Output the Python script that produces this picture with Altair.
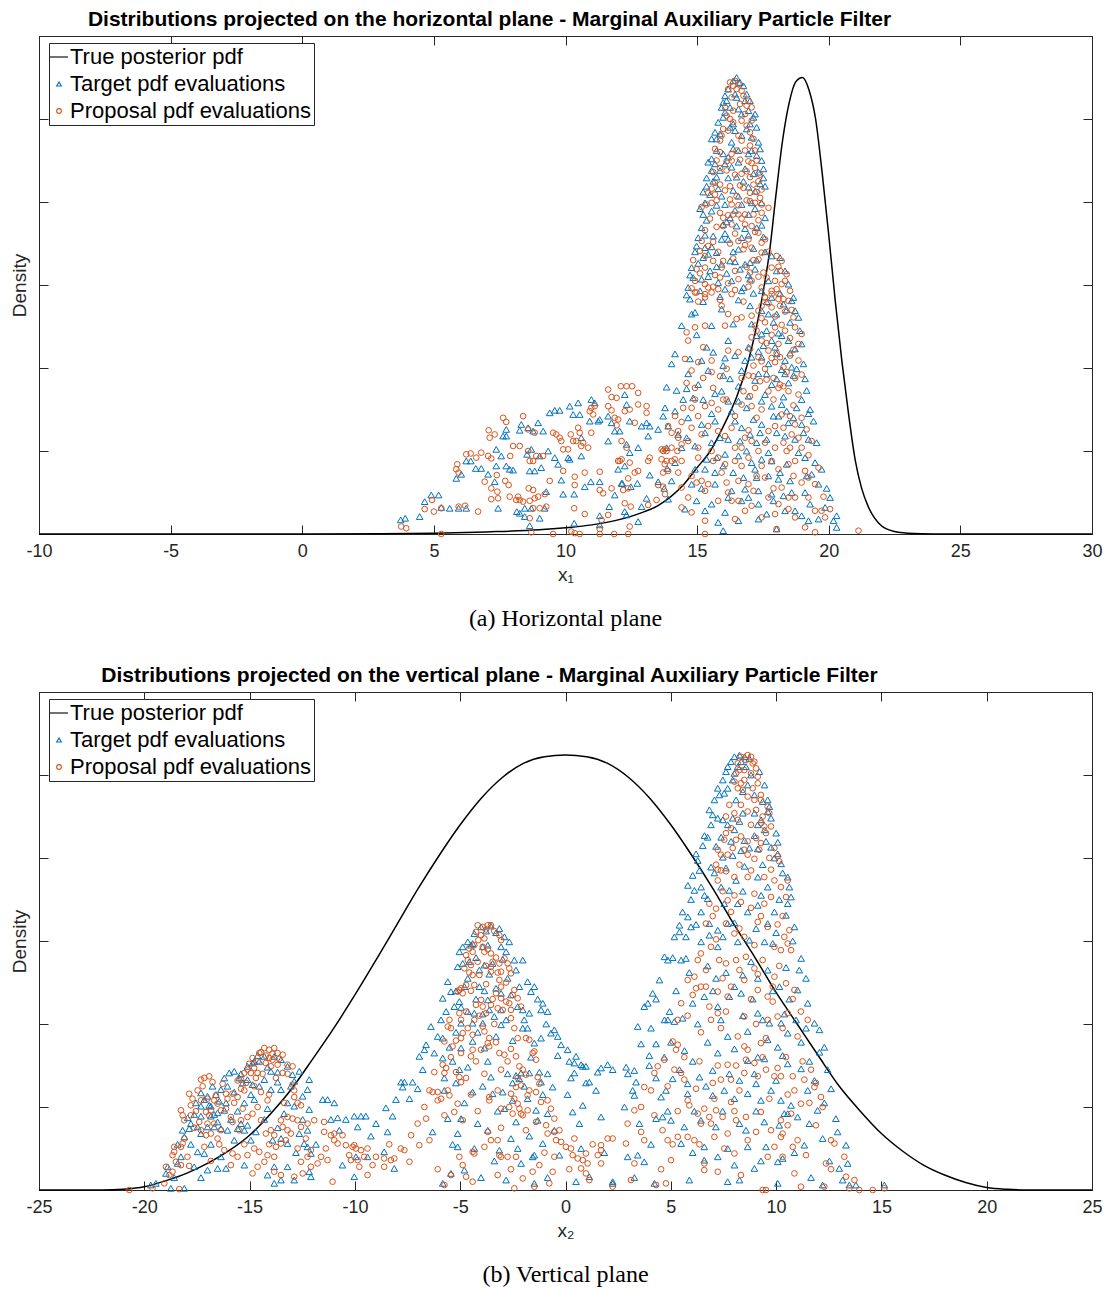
import altair as alt
import pandas as pd

SERIES = ["True posterior pdf", "Target pdf evaluations", "Proposal pdf evaluations"]
COLORS = ["#000000", "#0072BD", "#D95319"]
# the curve's legend glyph is a short horizontal stroke
SHAPES = ["M-3.84,0L3.84,0", "triangle-up", "circle"]

x1_ticks = [-10, -5, 0, 5, 10, 15, 20, 25, 30]
x2_ticks = [-25, -20, -15, -10, -5, 0, 5, 10, 15, 20, 25]
y_ticks = [0, 1, 2, 3, 4, 5, 6]

# ---------------- Panel (a): horizontal plane ----------------
p1_curve_x = [-10, 0, 3, 5, 7, 9, 10, 11, 12, 13, 13.5, 14, 14.5, 15, 15.5, 16, 16.5, 17, 17.5, 17.75,
              18, 18.25, 18.5, 18.75, 19, 19.25, 19.5, 19.75, 20, 20.25, 20.5, 20.75, 21, 21.25, 21.5,
              22, 22.5, 23, 24, 30]
p1_curve_y = [0, 0, 0.003, 0.01, 0.025, 0.05, 0.075, 0.11, 0.17, 0.27, 0.34, 0.45, 0.6, 0.8, 1.0, 1.3,
              1.65, 2.15, 2.9, 3.4, 4.1, 4.75, 5.2, 5.45, 5.5, 5.35, 5.0, 4.35, 3.6, 2.8, 2.08, 1.45,
              0.9, 0.55, 0.33, 0.1, 0.03, 0.01, 0, 0]

p1_target = [
    (3.74, 0.17), (3.91, 0.19), (4.46, 0.21), (4.65, 0.39), (4.90, 0.47), (5.18, 0.47), (5.28, 0.32), (5.60, 0.31),
    (5.94, 0.31), (6.23, 0.31), (5.85, 0.67), (6.04, 0.72), (6.23, 0.88), (6.40, 0.88), (6.59, 0.79), (6.80, 0.79),
    (7.06, 0.72), (7.37, 0.82), (7.56, 0.94), (7.75, 0.82), (7.88, 0.78), (8.01, 0.77), (7.44, 0.31), (7.31, 0.63),
    (7.63, 1.18), (7.75, 1.26), (8.32, 1.32), (8.58, 1.28), (8.77, 1.24), (8.96, 1.34), (9.15, 1.24), (9.40, 1.46),
    (9.59, 1.49), (9.78, 1.49), (10.16, 1.54), (10.29, 1.44), (10.48, 1.58), (10.54, 1.44), (10.98, 1.62), (11.11, 1.58),
    (11.30, 1.38), (11.62, 1.42), (12.25, 1.68), (12.32, 1.56), (13.71, 1.42), (13.52, 1.26), (13.14, 1.18), (13.20, 1.30),
    (12.89, 1.30), (12.32, 1.08), (12.44, 0.98), (12.76, 1.04), (12.25, 0.82), (12.00, 0.78), (11.75, 1.34), (11.62, 1.12),
    (10.10, 0.92), (10.16, 0.90), (9.59, 0.92), (9.72, 0.84), (9.34, 1.00), (9.02, 0.94), (8.64, 0.76), (8.83, 0.76),
    (9.08, 0.80), (8.54, 0.96), (8.26, 1.25), (8.15, 0.27), (8.45, 0.31), (8.64, 0.10), (9.02, 0.19), (9.21, 0.31),
    (9.27, 0.51), (9.84, 0.65), (9.91, 0.48), (10.33, 0.48), (10.33, 0.13), (10.73, 0.57), (10.96, 0.63), (11.30, 0.63),
    (11.30, 0.22), (11.30, 0.11), (11.66, 0.33), (11.87, 0.47), (12.13, 0.61), (12.16, 0.61), (12.48, 0.57), (12.73, 0.61),
    (13.08, 0.43), (13.20, 0.71), (13.52, 0.63), (13.75, 0.55), (13.86, 0.79), (12.89, 0.33), (12.32, 0.23), (12.25, 0.27),
    (12.76, 0.15), (8.26, 0.25), (8.45, 0.21), (8.70, 0.31), (7.37, 1.02), (7.75, 1.18), (8.70, 1.02), (10.60, 1.16),
    (10.60, 0.94), (10.92, 1.36), (11.24, 1.36), (11.87, 1.24), (12.06, 1.24), (12.44, 1.36), (13.08, 1.34),
    (16.50, 5.50), (16.37, 5.46), (16.63, 5.44), (16.76, 5.40), (16.18, 5.36), (16.06, 5.28), (16.50, 5.26), (15.99, 5.20),
    (16.82, 5.22), (17.01, 5.22), (15.93, 5.14), (16.25, 5.14), (16.95, 5.10), (15.99, 5.02), (16.69, 5.06), (17.14, 5.02),
    (16.37, 4.94), (17.01, 4.94), (17.26, 4.90), (15.68, 4.84), (15.87, 4.82), (16.44, 4.86), (16.69, 4.80), (17.07, 4.78),
    (15.55, 4.76), (15.74, 4.76), (16.31, 4.72), (17.33, 4.72), (17.39, 4.64), (17.07, 4.62), (16.37, 4.64), (16.57, 4.62),
    (15.99, 4.58), (15.55, 4.52), (16.18, 4.54), (15.68, 4.46), (16.57, 4.48), (17.45, 4.50), (17.52, 4.40), (15.55, 4.38),
    (15.87, 4.38), (16.31, 4.42), (15.36, 4.29), (15.61, 4.25), (16.18, 4.29), (16.76, 4.25), (17.52, 4.29), (17.58, 4.19),
    (15.36, 4.19), (15.49, 4.09), (15.93, 4.07), (16.57, 4.07), (17.20, 4.13), (17.07, 3.99), (15.30, 3.99), (16.06, 3.97),
    (16.69, 3.97), (17.45, 3.99), (15.23, 3.85), (15.55, 3.89), (16.25, 3.81), (16.95, 3.85), (17.58, 3.81), (15.17, 3.69),
    (15.99, 3.73), (16.50, 3.71), (17.26, 3.69), (15.04, 3.57), (15.61, 3.59), (15.93, 3.55), (16.18, 3.55), (16.69, 3.57),
    (14.98, 3.47), (15.30, 3.45), (16.57, 3.43), (15.42, 3.37), (15.74, 3.39), (16.25, 3.29), (17.01, 3.27), (16.82, 3.25),
    (15.23, 3.33), (14.79, 3.21), (15.49, 3.17), (15.93, 3.25), (16.63, 3.19), (17.20, 3.19), (14.85, 3.09), (15.17, 3.07),
    (15.80, 3.03), (16.31, 3.05), (16.76, 2.97), (17.01, 3.07), (14.66, 2.97), (15.11, 2.93), (16.06, 2.95), (16.69, 2.93),
    (14.73, 2.83),
    (17.83, 3.35), (18.15, 3.33), (18.02, 3.17), (18.34, 3.17), (17.71, 3.05), (18.47, 3.01), (17.45, 2.93), (18.66, 2.85),
    (17.83, 2.85),
    (14.92, 2.67), (14.79, 2.65), (15.93, 2.71), (16.37, 2.53), (17.01, 2.75), (14.41, 2.51), (15.55, 2.51), (16.18, 2.33),
    (17.07, 2.53), (17.45, 2.69), (17.45, 2.41), (17.71, 2.65), (18.02, 2.65), (18.28, 2.77), (18.59, 2.81), (18.72, 2.69),
    (18.85, 2.61), (17.26, 2.39), (17.52, 2.27), (17.83, 2.33), (18.21, 2.39), (18.47, 2.33), (18.72, 2.23), (18.97, 2.29),
    (14.16, 2.17), (14.03, 2.05), (14.73, 2.11), (15.17, 2.09), (15.61, 2.19), (15.99, 2.03), (16.82, 2.09), (17.07, 2.13),
    (17.45, 2.13), (18.02, 2.17), (18.34, 2.09), (18.59, 2.01), (18.78, 1.99), (14.66, 1.93), (15.42, 1.97), (15.99, 1.91),
    (16.25, 1.87), (16.69, 1.97), (17.33, 1.93), (17.64, 1.93), (18.02, 1.87), (18.34, 1.93), (18.66, 1.91), (19.10, 1.87),
    (13.84, 1.77), (14.22, 1.73), (14.60, 1.75), (14.85, 1.64), (15.23, 1.62), (15.68, 1.69), (16.18, 1.60), (16.57, 1.60),
    (16.95, 1.66), (17.45, 1.60), (17.83, 1.54), (18.21, 1.56), (18.40, 1.48), (18.78, 1.52), (19.16, 1.73), (19.29, 1.50),
    (13.78, 1.52), (14.16, 1.48), (14.66, 1.40), (15.17, 1.32), (15.68, 1.36), (16.44, 1.36), (16.69, 1.28), (17.14, 1.38),
    (17.45, 1.32), (18.09, 1.42), (18.47, 1.34), (18.97, 1.32), (19.42, 1.36), (13.90, 1.30), (14.28, 1.20), (14.60, 1.16),
    (15.30, 1.22), (15.87, 1.16), (16.18, 1.14), (17.01, 1.20), (17.26, 1.10), (17.64, 1.14), (18.02, 1.22), (18.72, 1.14),
    (19.23, 1.14), (13.84, 1.04), (14.41, 1.04), (14.92, 1.06), (15.36, 0.90), (15.74, 0.92), (16.06, 0.96), (16.57, 0.94),
    (17.07, 0.86), (17.45, 0.90), (17.83, 0.88), (18.40, 0.84), (19.10, 0.92), (19.48, 0.86), (14.16, 0.86), (14.92, 0.78),
    (15.30, 0.78), (15.68, 0.74), (16.37, 0.74), (16.76, 0.68), (17.26, 0.68), (17.71, 0.70), (18.09, 0.66), (18.53, 0.64),
    (19.16, 0.70), (19.73, 0.78), (14.03, 0.64), (14.79, 0.60), (15.68, 0.60), (16.31, 0.52), (16.82, 0.54), (17.33, 0.52),
    (17.83, 0.48), (18.59, 0.50), (19.61, 0.60), (20.05, 0.44), (13.90, 0.42), (14.98, 0.40), (15.55, 0.36), (16.18, 0.44),
    (16.69, 0.40), (17.33, 0.36), (17.90, 0.40), (18.34, 0.28), (18.72, 0.28), (19.29, 0.36), (19.86, 0.32), (15.30, 0.28),
    (15.80, 0.14), (16.57, 0.16), (17.33, 0.18), (18.02, 0.06), (19.23, 0.16), (20.18, 0.16), (15.99, 0.04), (20.30, 0.08),
]

p1_target_dense = [
    (16.44, 5.30), (16.12, 5.22), (16.88, 5.30), (16.57, 5.12), (16.06, 5.08), (17.20, 5.06), (15.80, 4.96), (16.25, 4.90),
    (16.88, 4.88), (15.74, 4.62), (16.95, 4.58), (17.26, 4.56), (15.42, 4.48), (16.06, 4.46), (16.82, 4.40), (17.14, 4.34),
    (15.74, 4.30), (16.50, 4.30), (17.33, 4.36), (15.23, 4.12), (15.80, 4.16), (16.37, 4.14), (16.95, 4.18), (17.39, 4.22),
    (15.11, 3.92), (15.74, 3.96), (16.44, 3.90), (17.20, 3.92), (15.36, 3.78), (16.12, 3.76), (16.82, 3.68), (17.45, 3.72),
    (15.30, 3.60), (16.06, 3.62), (16.95, 3.60), (17.52, 3.58), (14.92, 3.40), (15.55, 3.46), (16.37, 3.40), (17.14, 3.44),
    (17.58, 3.40), (15.04, 3.26), (15.74, 3.22), (16.44, 3.28), (17.26, 3.30), (14.73, 3.12), (15.42, 3.10), (16.12, 3.14),
    (16.95, 3.12), (14.60, 2.88), (15.23, 2.80), (15.87, 2.86), (16.57, 2.82), (17.14, 2.90),
    (17.64, 2.80), (18.15, 2.90), (18.40, 2.70), (17.90, 2.55), (18.53, 2.55), (17.64, 2.45), (18.09, 2.42), (18.90, 2.45),
    (17.33, 2.20), (17.96, 2.25), (18.53, 2.18), (16.95, 2.25), (16.44, 2.15), (17.71, 2.05), (18.21, 1.98), (19.04, 2.05),
    (16.06, 2.12), (15.36, 2.25), (14.98, 2.40), (17.20, 1.85), (17.83, 1.80), (18.47, 1.82), (16.57, 1.78), (15.93, 1.72),
    (15.04, 1.80), (14.47, 1.62), (17.58, 1.68), (18.28, 1.65), (18.97, 1.62), (16.88, 1.52), (16.31, 1.48), (15.55, 1.45),
    (17.90, 1.42), (18.66, 1.40), (19.23, 1.45), (17.39, 1.22), (16.63, 1.12), (15.55, 1.10), (18.34, 1.18), (19.04, 1.22),
    (19.54, 1.10), (16.88, 1.00), (17.71, 0.98), (18.85, 0.98), (15.99, 0.82), (17.20, 0.78), (18.15, 0.74), (19.35, 0.72),
    (19.92, 0.55), (16.95, 0.44), (18.28, 0.46), (19.10, 0.50), (15.17, 0.55), (14.54, 0.30), (16.06, 0.26), (17.64, 0.24),
    (18.97, 0.22), (19.61, 0.18), (20.30, 0.22),
]

p1_proposal = [
    (3.76, 0.09), (3.95, 0.07), (4.65, 0.30), (4.93, 0.41), (5.00, 0.27), (5.28, 0.31), (5.94, 0.33), (6.19, 0.34),
    (6.68, 0.27), (5.28, 0.00), (5.85, 0.78), (5.94, 0.74), (5.89, 0.84), (6.23, 0.96), (6.40, 0.97), (6.61, 0.92),
    (6.80, 0.98), (7.06, 0.94), (7.18, 0.91), (7.12, 1.16), (7.08, 1.25), (7.31, 1.20), (6.93, 0.63), (7.18, 0.55),
    (7.41, 0.51), (7.44, 0.43), (7.18, 0.42), (7.39, 0.71), (7.71, 0.64), (7.84, 0.59), (7.88, 0.45), (7.63, 1.40),
    (7.75, 1.35), (7.90, 0.94), (8.01, 1.06), (8.26, 1.06), (8.39, 1.42), (8.58, 1.26), (8.83, 1.22), (8.58, 1.00),
    (8.64, 0.88), (8.77, 0.88), (8.89, 0.94), (9.15, 0.94), (8.60, 0.55), (8.77, 0.53), (8.96, 0.45), (9.21, 0.48),
    (8.20, 0.45), (8.13, 0.41), (8.26, 0.41), (8.39, 0.39), (8.64, 0.40), (8.83, 0.43), (8.77, 0.31), (8.64, 0.19),
    (9.02, 0.31), (9.27, 0.33), (9.40, 0.64), (9.53, 1.22), (9.65, 1.20), (9.78, 1.16), (9.84, 1.12), (9.91, 1.02),
    (9.91, 0.76), (10.10, 1.02), (10.20, 1.20), (10.29, 1.12), (10.48, 1.28), (10.54, 1.22), (10.41, 1.12), (10.60, 1.06),
    (10.67, 1.10), (10.86, 1.04), (10.98, 1.22), (10.73, 0.74), (10.35, 0.69), (10.35, 0.59), (10.33, 0.31), (10.73, 0.24),
    (11.30, 0.75), (11.30, 0.53), (11.43, 0.49), (11.37, 0.17), (11.30, 0.06), (10.92, 1.48), (11.05, 1.44), (11.11, 1.54),
    (10.98, 1.52), (11.62, 1.74), (11.75, 1.65), (11.94, 1.64), (12.10, 1.78), (12.32, 1.78), (12.53, 1.78), (12.76, 1.70),
    (11.62, 1.54), (11.75, 1.49), (11.87, 1.40), (12.00, 1.38), (11.94, 1.31), (12.25, 1.48), (12.44, 1.50), (12.63, 1.34),
    (12.76, 1.56), (13.08, 1.54), (13.08, 1.46), (12.13, 1.12), (12.32, 1.04), (12.13, 0.90), (12.06, 0.88), (12.44, 0.86),
    (12.63, 0.74), (12.76, 0.76), (12.38, 0.67), (12.38, 0.55), (12.19, 0.53), (11.75, 0.55), (12.00, 0.88), (12.25, 0.37),
    (12.48, 0.33), (13.14, 0.88), (13.20, 0.92), (13.14, 0.35), (13.46, 0.41), (13.71, 1.00), (13.77, 1.02), (13.84, 1.00),
    (13.65, 0.90), (13.77, 0.84), (13.90, 0.76), (14.03, 0.88), (14.15, 0.90), (14.25, 1.00), (14.28, 1.16), (14.03, 1.22),
    (13.90, 1.30), (13.52, 0.59), (13.71, 0.57), (11.62, 0.23), (11.30, 0.00), (12.44, 0.09), (11.85, 0.00), (12.38, 0.00),
    (10.54, 0.00), (10.35, 0.01), (10.22, 0.03), (9.53, 0.00), (8.70, 0.02),
    (16.25, 5.44), (16.37, 5.40), (16.57, 5.42), (16.18, 5.36), (16.69, 5.34), (16.76, 5.28), (16.31, 5.26), (16.63, 5.18),
    (16.88, 5.16), (17.07, 5.14), (16.37, 5.10), (16.12, 5.04), (16.82, 5.06), (16.37, 4.96), (16.69, 4.98), (17.07, 4.98),
    (15.99, 4.88), (16.18, 4.86), (17.01, 4.84), (15.87, 4.74), (16.69, 4.74), (17.01, 4.68), (15.68, 4.64), (15.87, 4.60),
    (16.50, 4.62), (17.20, 4.62), (16.12, 4.49), (16.63, 4.51), (16.95, 4.49), (17.07, 4.47), (15.87, 4.41), (16.44, 4.33),
    (16.88, 4.37), (17.20, 4.41), (17.39, 4.33), (15.68, 4.23), (15.87, 4.21), (16.25, 4.19), (16.76, 4.17), (17.14, 4.21),
    (17.33, 4.25), (17.45, 4.15), (15.42, 4.11), (15.68, 4.09), (16.50, 4.07), (17.01, 4.11), (17.39, 4.05), (15.36, 3.97),
    (15.55, 3.99), (16.25, 4.03), (16.31, 3.97), (17.01, 4.01), (17.20, 3.99), (17.45, 3.97), (15.87, 3.87), (15.99, 3.81),
    (16.37, 3.85), (16.57, 3.85), (16.82, 3.85), (17.14, 3.85), (17.45, 3.87), (17.71, 3.93), (15.99, 3.71), (16.31, 3.73),
    (16.82, 3.73), (17.07, 3.71), (17.33, 3.63), (15.17, 3.53), (15.42, 3.47), (16.57, 3.53), (16.95, 3.55), (17.07, 3.45),
    (17.45, 3.51), (15.11, 3.41), (15.30, 3.35), (15.61, 3.29), (15.99, 3.29), (16.76, 3.43), (17.45, 3.39), (17.33, 3.31),
    (14.98, 3.19), (15.30, 3.21), (15.93, 3.21), (16.44, 3.17), (17.01, 3.15), (14.92, 3.05), (15.30, 3.01), (15.87, 3.09),
    (16.57, 3.07), (17.07, 3.05), (15.42, 2.97), (15.80, 2.95), (14.98, 2.91), (16.31, 2.89), (15.30, 2.85),
    (18.02, 3.35), (18.21, 3.29), (17.83, 3.21), (18.15, 3.17), (18.40, 3.13), (17.64, 3.09), (17.96, 3.05), (18.21, 3.01),
    (17.45, 2.97), (17.83, 2.93), (18.09, 2.89), (18.53, 2.93), (17.58, 2.85), (18.28, 2.83),
    (14.92, 2.91), (15.30, 2.89), (15.55, 2.91), (15.93, 2.75), (16.18, 2.65), (16.50, 2.59), (16.69, 2.61), (17.07, 2.63),
    (17.33, 2.69), (17.58, 2.85), (17.83, 2.89), (18.09, 2.83), (17.45, 2.75), (17.83, 2.73), (18.15, 2.75), (18.47, 2.81),
    (18.66, 2.61), (17.20, 2.51), (17.58, 2.55), (17.96, 2.49), (18.34, 2.45), (18.72, 2.49), (18.97, 2.41), (14.60, 2.43),
    (14.92, 2.49), (15.30, 2.51), (16.06, 2.51), (17.07, 2.37), (17.45, 2.33), (18.09, 2.29), (18.85, 2.29), (14.66, 2.33),
    (15.23, 2.25), (16.18, 2.21), (16.57, 2.19), (17.01, 2.23), (17.33, 2.13), (17.71, 2.21), (18.15, 2.13), (18.53, 2.15),
    (18.85, 2.09), (14.54, 2.11), (15.04, 2.07), (15.55, 2.09), (17.14, 2.03), (17.58, 1.99), (17.96, 2.07), (18.28, 2.01),
    (14.79, 1.97), (15.55, 1.95), (16.12, 1.99), (16.95, 1.91), (17.39, 1.84), (17.90, 1.88), (18.15, 1.80), (18.72, 1.88),
    (14.92, 1.76), (15.61, 1.76), (15.99, 1.62), (16.76, 1.72), (17.20, 1.76), (17.71, 1.72), (18.09, 1.76), (18.47, 1.72),
    (18.85, 1.68), (14.47, 1.52), (14.79, 1.52), (15.30, 1.54), (15.80, 1.50), (16.69, 1.56), (17.07, 1.54), (17.45, 1.50),
    (18.21, 1.44), (18.53, 1.42), (18.97, 1.40), (15.04, 1.42), (14.16, 1.42), (14.28, 1.24), (14.79, 1.28), (15.17, 1.20),
    (15.80, 1.24), (16.31, 1.28), (16.82, 1.16), (17.07, 1.12), (17.71, 1.24), (18.28, 1.28), (18.59, 1.20), (18.85, 1.16),
    (13.65, 1.02), (14.03, 1.04), (14.41, 1.08), (15.04, 1.04), (15.55, 1.00), (16.44, 1.04), (16.69, 1.04), (17.33, 1.00),
    (17.96, 1.04), (18.28, 1.10), (18.53, 1.04), (18.97, 1.04), (19.35, 1.12), (13.84, 0.88), (14.41, 0.88), (15.04, 0.92),
    (15.80, 0.92), (16.06, 0.84), (16.44, 0.88), (16.95, 0.92), (17.45, 0.82), (17.83, 0.88), (18.09, 0.78), (18.47, 0.84),
    (18.72, 0.88), (19.10, 0.76), (13.71, 0.74), (14.28, 0.74), (14.79, 0.70), (15.17, 0.64), (15.42, 0.60), (15.93, 0.74),
    (16.57, 0.64), (16.95, 0.60), (17.58, 0.68), (18.21, 0.56), (18.47, 0.44), (18.97, 0.62), (19.23, 0.68), (19.48, 0.60),
    (13.78, 0.48), (14.41, 0.56), (14.66, 0.44), (15.30, 0.52), (16.18, 0.50), (16.57, 0.40), (17.14, 0.52), (17.71, 0.44),
    (18.09, 0.36), (18.72, 0.44), (19.23, 0.44), (19.73, 0.28), (14.41, 0.32), (14.79, 0.26), (15.30, 0.16), (16.31, 0.40),
    (16.82, 0.28), (17.45, 0.20), (17.96, 0.24), (18.72, 0.20), (19.48, 0.28), (19.86, 0.20), (15.30, 0.00), (18.02, 0.06),
    (19.48, 0.02), (21.13, 0.04),
]

p1_proposal_dense = [
    (16.44, 5.46), (16.50, 5.36), (16.06, 5.14), (16.95, 5.22), (16.25, 5.00), (16.88, 4.92), (15.93, 4.80), (16.57, 4.80),
    (17.14, 4.76), (16.31, 4.58), (16.82, 4.62), (15.74, 4.50), (16.31, 4.50), (17.26, 4.50), (15.61, 4.36), (16.12, 4.38),
    (16.69, 4.34), (17.01, 4.30), (15.55, 4.16), (16.06, 4.14), (16.63, 4.20), (17.26, 4.12), (15.17, 3.94), (15.74, 4.02),
    (16.57, 3.96), (16.88, 4.02), (15.49, 3.80), (16.18, 3.84), (16.69, 3.80), (17.33, 3.78), (15.30, 3.66), (15.74, 3.70),
    (16.44, 3.62), (17.20, 3.64), (15.61, 3.52), (16.25, 3.50), (16.82, 3.48), (17.58, 3.55), (14.85, 3.30), (15.80, 3.40),
    (16.37, 3.32), (17.14, 3.30), (15.11, 3.14), (15.68, 3.12), (16.18, 3.02), (16.88, 3.22), (17.33, 3.10), (14.79, 2.96),
    (15.61, 2.98), (16.44, 2.94), (16.95, 2.98), (15.04, 2.80), (15.87, 2.82), (16.76, 2.80),
    (17.71, 3.40), (18.09, 3.22), (18.34, 3.05), (17.52, 3.15), (18.02, 2.95), (17.71, 2.78), (18.34, 2.68), (17.96, 2.62),
    (18.59, 2.70), (17.45, 2.60), (17.83, 2.40), (18.21, 2.52), (18.53, 2.36), (17.26, 2.45), (17.64, 2.30), (18.02, 2.18),
    (18.66, 2.22), (17.45, 2.08), (17.83, 2.12), (18.40, 1.95), (18.97, 1.92), (17.14, 1.90), (17.64, 1.86), (18.28, 1.78),
    (16.69, 1.88), (15.87, 1.90), (15.23, 1.88), (14.60, 1.82), (16.12, 1.62), (17.01, 1.66), (17.90, 1.62), (18.66, 1.55),
    (14.92, 1.62), (15.55, 1.58), (16.44, 1.42), (17.26, 1.40), (17.96, 1.30), (18.72, 1.32), (19.16, 1.26), (14.41, 1.35),
    (15.42, 1.30), (16.06, 1.18), (16.95, 1.25), (17.58, 1.10), (18.40, 1.00), (19.23, 0.95), (14.66, 1.12), (15.61, 0.88),
    (16.69, 0.82), (17.26, 0.70), (18.66, 0.70), (19.61, 0.80), (14.98, 0.62), (16.12, 0.62), (17.90, 0.55), (19.80, 0.45),
    (15.80, 0.40), (17.07, 0.34), (18.47, 0.30), (20.05, 0.30), (16.44, 0.18), (19.10, 0.08),
]

# ---------------- Panel (b): vertical plane ----------------
p2_curve_x = [-25, -22, -21, -20, -19, -18, -17, -16, -15, -14, -13, -12, -11, -10, -9, -8, -7, -6, -5, -4, -3,
              -2, -1, 0, 1, 2, 3, 4, 5, 6, 7, 8, 9, 10, 11, 12, 13, 14, 15, 16, 17, 18, 19, 20, 21, 22, 25]
p2_curve_y = [0, 0, 0.01, 0.04, 0.11, 0.2, 0.32, 0.47, 0.66, 0.92, 1.22, 1.58, 1.95, 2.35, 2.77, 3.2, 3.63,
              4.03, 4.4, 4.72, 4.97, 5.14, 5.22, 5.24, 5.22, 5.14, 4.97, 4.72, 4.4, 4.03, 3.63, 3.2, 2.8, 2.38,
              2.0, 1.62, 1.25, 0.95, 0.68, 0.47, 0.3, 0.18, 0.09, 0.03, 0.008, 0, 0]

p2_target = [
    (-19.69, 0.06), (-19.45, 0.08), (-18.74, 0.02), (-18.10, 0.02), (-18.97, 0.20), (-18.89, 0.28), (-18.42, 0.32),
    (-18.26, 0.40), (-18.10, 0.64), (-18.18, 0.72), (-17.87, 0.74), (-17.47, 0.76), (-17.31, 0.68), (-17.00, 0.76),
    (-16.68, 0.76), (-16.36, 0.74), (-16.05, 0.72), (-15.57, 0.74), (-15.25, 0.72), (-17.31, 0.89), (-16.84, 0.89),
    (-16.68, 0.91), (-16.52, 0.93), (-17.63, 0.91), (-17.94, 0.87), (-17.31, 1.17), (-17.15, 1.09), (-17.00, 1.13),
    (-16.60, 1.15), (-16.36, 1.21), (-16.05, 1.25), (-17.31, 1.01), (-16.84, 1.01), (-16.44, 1.07), (-15.97, 1.41),
    (-15.73, 1.43), (-15.49, 1.35), (-15.33, 1.29), (-15.10, 1.49), (-14.86, 1.53), (-14.78, 1.55), (-14.54, 1.55),
    (-15.10, 1.33), (-14.86, 1.27), (-14.30, 1.61), (-13.83, 1.61), (-13.51, 1.57), (-13.99, 1.43), (-13.20, 1.49),
    (-12.96, 1.39), (-12.64, 1.43), (-12.88, 1.31), (-12.48, 1.13), (-12.25, 1.21), (-12.17, 1.33), (-12.17, 0.97),
    (-12.48, 0.85), (-12.25, 0.72), (-12.88, 1.01), (-13.20, 1.05), (-13.51, 1.21), (-13.99, 1.21), (-14.30, 1.33),
    (-14.54, 1.25), (-14.78, 1.09), (-15.25, 1.05), (-15.41, 0.80), (-15.89, 0.85), (-16.20, 0.96), (-17.47, 0.46),
    (-17.15, 0.44), (-17.63, 0.28), (-17.00, 0.24), (-16.52, 0.26), (-16.12, 0.26), (-14.30, 0.85), (-13.91, 0.60),
    (-13.51, 0.62), (-13.20, 0.56), (-12.64, 0.68), (-12.41, 0.56), (-12.25, 0.52), (-12.09, 0.44), (-13.20, 0.28),
    (-13.83, 0.28), (-14.15, 0.18), (-13.51, 0.12), (-13.83, 0.08), (-12.88, 0.12), (-12.17, 0.22), (-12.09, 0.16),
    (-11.53, 1.09), (-11.30, 1.09), (-10.98, 1.05), (-11.14, 0.85), (-10.82, 0.87), (-10.43, 0.85), (-10.03, 0.89),
    (-9.71, 0.89), (-9.48, 0.89), (-9.87, 0.76), (-10.74, 0.72), (-9.00, 0.80), (-8.61, 0.46), (-9.40, 0.40),
    (-9.95, 0.40), (-10.03, 0.16), (-8.13, 0.26), (-8.05, 1.09), (-8.53, 0.99), (-8.21, 0.89),
    (-4.01, 3.17), (-3.54, 3.18), (-3.14, 3.15), (-4.33, 3.09), (-4.64, 2.99), (-4.88, 2.93), (-5.04, 2.87), (-4.41, 2.97),
    (-3.93, 2.93), (-2.90, 3.05), (-2.67, 2.99), (-3.06, 2.93), (-2.82, 2.87), (-4.88, 2.73), (-5.12, 2.69), (-4.57, 2.75),
    (-4.09, 2.65), (-3.85, 2.71), (-3.46, 2.73), (-2.43, 2.77), (-2.03, 2.77), (-2.35, 2.65), (-5.59, 2.51), (-5.44, 2.39),
    (-4.80, 2.45), (-5.83, 2.31), (-4.09, 2.45), (-3.30, 2.43), (-3.06, 2.37), (-1.80, 2.51), (-1.48, 2.45), (-1.64, 2.39),
    (-5.28, 2.21), (-5.04, 2.27), (-5.67, 2.15), (-4.64, 2.15), (-4.33, 2.13), (-3.69, 2.29), (-3.62, 2.17), (-3.38, 2.09),
    (-3.06, 2.17), (-2.27, 2.21), (-2.03, 2.17), (-1.72, 2.13), (-1.08, 2.25), (-0.85, 2.15), (-1.16, 2.17), (-6.39, 1.97),
    (-6.07, 1.85), (-5.83, 1.83), (-5.51, 1.72), (-4.96, 2.01), (-4.96, 1.71), (-4.41, 2.01), (-4.41, 1.79), (-3.93, 2.01),
    (-3.85, 1.71), (-3.06, 1.99), (-2.03, 1.95), (-1.80, 1.95), (-1.16, 1.83), (-1.48, 1.77), (-0.53, 1.93), (-0.37, 1.85),
    (-0.69, 1.89), (-0.21, 1.75), (0.10, 1.69), (0.50, 1.61), (0.74, 1.51), (0.97, 1.49), (0.42, 1.53), (0.18, 1.55),
    (-6.62, 1.75), (-6.70, 1.69), (-6.94, 1.61), (-5.83, 1.59), (-5.04, 1.45), (-5.75, 1.35), (-5.20, 1.29), (-4.41, 1.18),
    (-3.46, 1.16), (-2.98, 1.18), (-3.54, 1.36), (-2.51, 1.29), (-2.11, 1.41), (-1.72, 1.41), (-1.24, 1.42), (-1.16, 1.30),
    (-0.61, 1.24), (-2.51, 1.08), (-2.90, 0.98), (-1.80, 1.10), (-2.35, 1.38), (-2.19, 1.34), (-1.40, 0.96), (-1.32, 0.84),
    (-0.85, 0.92), (0.42, 1.41), (0.82, 1.49), (0.97, 1.29), (1.13, 1.30), (0.34, 0.94), (0.82, 1.02), (1.69, 0.88),
    (1.53, 1.42), (1.69, 1.47), (2.00, 1.51), (2.24, 1.45), (-0.53, 0.72), (-1.08, 0.56), (-2.27, 0.50), (-3.14, 0.48),
    (-3.69, 0.72), (-4.33, 0.50), (-5.12, 0.68), (-5.59, 0.86), (-4.96, 0.86), (-1.48, 0.42), (-2.11, 0.32), (-1.56, 0.40),
    (-5.12, 0.52), (-4.80, 0.24), (-5.44, 0.20), (-5.83, 0.08), (-1.48, 0.08), (0.74, 0.50), (1.13, 0.16), (2.24, 0.10),
    (-7.73, 1.24), (-7.41, 1.10), (-7.02, 1.22), (-7.81, 1.30), (-7.26, 1.30), (-7.65, 1.30),
    (8.02, 5.22), (8.26, 5.24), (8.50, 5.22), (7.86, 5.16), (8.73, 5.20), (7.70, 5.10), (7.62, 5.04), (8.34, 5.16),
    (8.02, 5.02), (7.47, 4.94), (7.23, 4.84), (7.31, 4.76), (7.70, 4.84), (8.42, 4.80), (8.65, 4.88), (9.21, 5.04),
    (9.45, 4.88), (9.60, 4.70), (9.68, 4.62), (7.07, 4.70), (6.83, 4.58), (6.99, 4.52), (7.23, 4.48), (7.47, 4.46),
    (7.94, 4.48), (8.42, 4.54), (8.97, 4.54), (9.29, 4.46), (9.60, 4.56), (6.60, 4.27), (6.75, 4.25), (7.39, 4.25),
    (8.02, 4.34), (8.50, 4.21), (8.97, 4.27), (9.45, 4.34), (10.00, 4.30), (10.08, 4.19), (6.20, 4.05), (6.28, 3.97),
    (6.91, 3.89), (7.47, 4.01), (7.94, 4.03), (8.34, 4.09), (9.13, 4.11), (9.76, 4.13), (10.08, 4.05), (10.24, 3.93),
    (10.55, 3.77), (6.04, 3.79), (5.81, 3.67), (6.12, 3.61), (6.44, 3.65), (6.75, 3.51), (7.39, 3.65), (7.78, 3.61),
    (8.10, 3.73), (9.13, 3.77), (9.60, 3.65), (10.63, 3.65), (10.71, 3.53), (5.56, 3.35), (5.81, 3.29), (5.41, 3.19),
    (5.96, 3.17), (5.17, 3.05), (5.41, 3.11), (6.44, 3.35), (6.83, 3.21), (7.23, 3.13), (7.70, 3.21), (8.18, 3.45),
    (8.65, 3.35), (9.13, 3.43), (9.60, 3.21), (9.92, 3.35), (10.47, 3.31), (10.87, 3.17), (6.44, 2.99), (6.83, 3.07),
    (7.23, 2.93), (8.18, 2.99), (8.73, 3.01), (9.45, 2.99), (9.84, 2.97), (11.19, 2.79), (4.70, 2.81), (4.86, 2.77),
    (5.49, 2.77), (5.72, 2.79), (7.15, 2.55), (8.42, 2.59), (9.13, 2.55), (10.16, 2.45), (11.02, 2.41), (11.42, 2.55),
    (4.46, 2.53), (4.14, 2.37), (3.74, 2.21), (3.91, 2.25), (4.70, 2.05), (4.86, 2.05), (5.17, 2.03), (5.56, 2.07),
    (6.59, 2.33), (7.23, 2.21), (7.78, 2.33), (8.34, 2.37), (9.13, 2.13), (9.68, 2.01), (10.24, 2.01), (10.95, 2.05),
    (11.82, 2.01), (12.06, 1.93), (3.43, 1.97), (3.59, 1.76), (4.30, 1.76), (5.01, 1.78), (5.65, 1.68), (6.75, 1.78),
    (7.70, 1.85), (8.65, 1.91), (9.60, 1.81), (10.08, 1.72), (10.55, 1.89), (11.19, 1.78), (12.06, 1.66), (2.88, 1.48),
    (2.96, 1.40), (3.27, 1.44), (3.98, 1.50), (5.09, 1.34), (5.80, 1.28), (6.36, 1.36), (6.99, 1.44), (7.78, 1.40),
    (8.26, 1.32), (8.65, 1.56), (9.05, 1.28), (9.45, 1.58), (10.00, 1.32), (10.55, 1.52), (11.19, 1.46), (11.82, 1.32),
    (12.61, 1.22), (3.19, 1.20), (3.27, 1.14), (4.54, 1.12), (4.77, 1.20), (5.80, 1.16), (6.99, 1.14), (8.02, 1.10),
    (8.65, 1.16), (9.28, 1.08), (10.23, 1.08), (10.71, 1.02), (11.02, 0.88), (11.97, 0.96), (12.84, 0.86), (2.80, 1.00),
    (4.30, 0.86), (4.61, 0.88), (5.01, 0.84), (5.64, 0.76), (6.43, 0.84), (7.14, 0.76), (8.26, 0.80), (8.57, 0.72),
    (9.44, 0.82), (10.15, 0.78), (10.55, 0.92), (11.34, 0.54), (12.21, 0.62), (13.32, 0.54), (2.95, 0.40), (3.43, 0.42),
    (3.74, 0.34), (5.49, 0.56), (6.59, 0.52), (7.70, 0.50), (8.65, 0.52), (9.52, 0.52), (10.08, 0.34), (10.31, 0.38),
    (8.02, 0.30), (8.97, 0.26), (6.59, 0.36), (8.26, 0.12), (10.08, 0.08), (12.21, 0.06), (13.00, 0.26), (13.40, 0.32),
    (13.48, 0.06), (13.79, 0.06), (15.14, 0.06), (2.24, 0.08), (4.22, 0.08),
]

p2_target_dense = [
    (8.18, 5.10), (8.57, 5.10), (7.94, 4.94), (8.81, 5.00), (7.54, 4.78), (8.10, 4.70), (8.97, 4.76), (9.36, 4.68),
    (6.91, 4.40), (7.70, 4.40), (8.26, 4.44), (9.13, 4.40), (9.76, 4.48), (6.52, 4.15), (7.15, 4.14), (7.86, 4.20),
    (8.73, 4.12), (9.52, 4.20), (9.92, 4.00), (6.36, 3.85), (7.07, 3.82), (7.62, 3.88), (8.50, 3.90), (9.36, 3.92),
    (10.31, 3.82), (5.96, 3.50), (6.60, 3.55), (7.54, 3.45), (8.42, 3.60), (9.29, 3.55), (10.15, 3.50), (10.55, 3.45),
    (5.72, 3.05), (6.20, 3.20), (7.47, 3.05), (8.02, 3.22), (9.05, 3.15), (10.00, 3.10), (10.79, 3.00), (5.09, 2.80),
    (5.88, 2.62), (6.75, 2.70), (7.62, 2.62), (8.81, 2.75), (9.60, 2.65), (10.47, 2.68), (11.10, 2.65), (4.30, 2.30),
    (5.25, 2.40), (6.04, 2.25), (7.00, 2.40), (8.02, 2.45), (8.89, 2.30), (9.84, 2.40), (10.63, 2.30), (11.50, 2.25),
    (4.06, 1.95), (4.94, 2.15), (6.28, 2.00), (7.38, 2.05), (8.42, 2.10), (9.36, 2.05), (10.40, 2.12), (11.42, 1.95),
    (12.29, 1.72), (3.98, 1.62), (4.69, 1.60), (6.04, 1.55), (7.23, 1.65), (8.02, 1.70), (9.13, 1.60), (10.31, 1.62),
    (11.58, 1.55), (12.45, 1.45), (3.35, 1.30), (4.30, 1.35), (5.41, 1.45), (6.67, 1.25), (7.54, 1.20), (8.97, 1.40),
    (9.76, 1.20), (11.50, 1.20), (12.29, 1.05), (3.51, 0.80), (4.85, 0.95), (6.12, 0.95), (7.46, 0.95), (9.05, 0.95),
    (10.39, 0.92), (11.58, 0.80), (12.92, 0.70), (4.06, 0.55), (6.04, 0.45), (7.23, 0.40), (9.28, 0.35), (10.87, 0.45),
    (12.53, 0.35), (13.16, 0.12), (11.66, 0.15), (7.70, 0.10), (5.88, 0.12), (3.27, 0.15),
    (-3.77, 3.12), (-3.30, 3.10), (-4.49, 2.95), (-3.69, 2.95), (-2.98, 2.78), (-4.25, 2.80), (-3.62, 2.60), (-4.64, 2.55),
    (-2.75, 2.55), (-2.19, 2.45), (-3.85, 2.40), (-4.25, 2.30), (-5.20, 2.40), (-2.59, 2.35), (-1.32, 2.30), (-4.96, 2.20),
    (-3.93, 2.12), (-2.82, 2.05), (-1.96, 2.05), (-0.92, 2.00), (-5.91, 2.05), (-5.20, 1.90), (-4.17, 1.90), (-3.30, 1.85),
    (-2.51, 1.80), (-1.64, 1.60), (-0.37, 1.62), (-6.23, 1.65), (-5.36, 1.55), (-4.64, 1.48), (-3.69, 1.55), (-2.75, 1.40),
    (-1.96, 1.25), (-0.85, 1.40), (0.26, 1.35), (-6.78, 1.45), (-5.75, 1.20), (-4.80, 1.05), (-3.93, 1.25), (-3.22, 0.95),
    (-2.35, 0.82), (-1.08, 1.15), (0.10, 1.15), (1.45, 1.20), (-6.31, 0.70), (-5.36, 0.55), (-4.17, 0.80), (-3.38, 0.35),
    (-2.59, 0.62), (-1.72, 0.65), (-0.29, 0.42), (0.66, 0.80), (1.84, 0.45), (-4.01, 0.15), (-2.82, 0.12), (-0.85, 0.15),
    (0.50, 0.10),
    (-14.62, 1.62), (-14.15, 1.48), (-13.67, 1.42), (-15.41, 1.40), (-16.20, 1.35), (-16.76, 1.25), (-15.73, 1.18),
    (-14.94, 1.15), (-13.67, 1.30), (-13.04, 1.25), (-17.55, 1.05), (-16.92, 1.02), (-16.12, 1.05), (-15.57, 0.95),
    (-14.15, 0.98), (-13.36, 0.92), (-17.79, 0.80), (-16.52, 0.82), (-15.10, 0.78), (-14.70, 0.70), (-13.67, 0.75),
    (-18.42, 0.55), (-17.79, 0.55), (-16.84, 0.55), (-15.73, 0.60), (-14.94, 0.60), (-12.80, 0.45), (-18.58, 0.15),
    (-17.31, 0.15), (-16.36, 0.40), (-15.25, 0.30), (-11.85, 0.55), (-10.59, 0.30), (-9.24, 0.65), (-8.45, 0.70),
]

p2_proposal = [
    (-20.71, 0.00), (-19.61, 0.02), (-18.34, 0.01), (-19.05, 0.08), (-18.66, 0.22), (-18.97, 0.28), (-18.50, 0.34),
    (-18.26, 0.30), (-17.87, 0.29), (-18.66, 0.42), (-18.58, 0.46), (-18.26, 0.52), (-18.18, 0.56), (-18.58, 0.52),
    (-18.10, 0.84), (-18.18, 0.90), (-17.79, 0.90), (-18.26, 0.96), (-17.79, 1.02), (-17.71, 1.10), (-17.87, 1.16),
    (-17.47, 1.20), (-17.31, 1.33), (-17.15, 1.35), (-16.92, 1.37), (-17.39, 0.82), (-17.00, 0.80), (-17.31, 0.72),
    (-17.07, 0.66), (-16.84, 0.68), (-16.52, 0.62), (-16.36, 0.72), (-17.31, 1.08), (-17.00, 1.10), (-16.68, 1.08),
    (-16.52, 1.04), (-16.36, 0.96), (-16.12, 0.98), (-16.84, 0.96), (-17.07, 0.94), (-16.60, 1.14), (-16.12, 1.16),
    (-15.81, 1.16), (-15.57, 1.12), (-15.41, 1.22), (-15.25, 1.20), (-15.89, 0.88), (-15.81, 0.82), (-15.41, 0.84),
    (-15.10, 0.88), (-15.41, 1.33), (-15.25, 1.41), (-15.10, 1.45), (-14.78, 1.47), (-14.94, 1.41), (-14.70, 1.35),
    (-15.17, 1.29), (-14.86, 1.59), (-14.54, 1.65), (-14.30, 1.71), (-14.07, 1.69), (-13.83, 1.71), (-13.67, 1.65),
    (-14.07, 1.59), (-13.91, 1.57), (-13.43, 1.63), (-13.99, 1.49), (-13.67, 1.51), (-13.43, 1.41), (-13.20, 1.51),
    (-12.96, 1.49), (-14.23, 1.53), (-14.62, 1.41), (-14.78, 1.25), (-14.46, 1.18), (-14.15, 1.08), (-14.62, 1.00),
    (-15.33, 0.98), (-14.46, 0.84), (-13.99, 0.72), (-13.51, 0.84), (-13.20, 0.88), (-12.96, 0.86), (-12.72, 0.84),
    (-12.56, 0.76), (-12.25, 0.80), (-12.88, 1.12), (-12.56, 1.02), (-12.88, 1.20), (-12.96, 1.27), (-13.83, 0.66),
    (-13.43, 0.76), (-13.51, 0.56), (-13.28, 0.60), (-13.04, 0.68), (-13.75, 0.52), (-16.20, 0.48), (-15.81, 0.44),
    (-15.57, 0.40), (-15.10, 0.42), (-14.78, 0.50), (-14.54, 0.46), (-14.15, 0.42), (-13.83, 0.40), (-14.62, 0.28),
    (-14.30, 0.34), (-13.83, 0.22), (-13.51, 0.18), (-12.88, 0.16), (-12.56, 0.34), (-12.09, 0.28), (-12.25, 0.40),
    (-12.09, 0.48), (-11.77, 0.32), (-11.61, 0.40), (-11.30, 0.36), (-11.46, 0.70), (-11.14, 0.66), (-10.98, 0.60),
    (-10.82, 0.56), (-10.43, 0.54), (-10.11, 0.52), (-9.95, 0.50), (-9.71, 0.48), (-9.40, 0.50), (-9.56, 0.40),
    (-9.87, 0.36), (-9.79, 0.28), (-10.19, 0.36), (-9.00, 0.40), (-8.61, 0.38), (-8.29, 0.36), (-8.13, 0.38),
    (-7.82, 0.50), (-8.61, 0.28), (-9.40, 0.18), (-10.03, 0.54), (-11.06, 0.10), (-11.93, 0.84), (-11.46, 0.82),
    (-10.98, 0.68), (-10.59, 0.66),
    (-4.17, 3.19), (-3.93, 3.17), (-3.69, 3.19), (-3.54, 3.19), (-4.25, 3.11), (-4.01, 3.07), (-4.14, 3.01), (-3.85, 3.03),
    (-3.14, 3.07), (-3.06, 3.01), (-4.57, 2.91), (-4.41, 2.87), (-4.72, 2.83), (-4.64, 2.77), (-4.49, 2.71), (-4.80, 2.67),
    (-4.41, 2.59), (-3.93, 2.93), (-3.85, 2.87), (-3.54, 2.85), (-3.46, 2.75), (-3.54, 2.69), (-3.54, 2.63), (-4.09, 2.59),
    (-3.14, 2.73), (-2.90, 2.79), (-2.75, 2.73), (-2.67, 2.67), (-2.59, 2.61), (-3.06, 2.63), (-3.14, 2.53), (-4.96, 2.43),
    (-5.12, 2.39), (-5.04, 2.41), (-4.72, 2.47), (-4.88, 2.37), (-4.33, 2.47), (-3.06, 2.45), (-3.30, 2.37), (-3.06, 2.31),
    (-2.82, 2.27), (-2.59, 2.17), (-2.43, 2.41), (-2.51, 2.35), (-2.27, 2.31), (-2.11, 2.21), (-2.59, 2.07), (-2.98, 2.17),
    (-3.22, 2.19), (-3.54, 2.23), (-3.77, 2.13), (-3.93, 2.21), (-4.01, 2.29), (-4.25, 2.23), (-4.33, 2.05), (-4.72, 2.15),
    (-5.04, 2.13), (-4.96, 2.05), (-5.51, 2.05), (-5.59, 1.97), (-5.44, 1.95), (-4.88, 1.89), (-4.96, 1.83), (-4.41, 1.87),
    (-3.93, 1.97), (-3.85, 1.91), (-3.62, 1.83), (-3.69, 1.77), (-3.62, 1.73), (-4.01, 1.69), (-4.41, 1.69), (-4.49, 1.61),
    (-4.96, 1.65), (-5.36, 1.73), (-5.75, 1.79), (-5.83, 1.51), (-5.67, 1.47), (-5.75, 1.41), (-6.07, 1.18), (-5.91, 1.10),
    (-5.59, 1.20), (-5.51, 1.14), (-5.04, 1.36), (-4.96, 1.30), (-5.20, 1.42), (-3.14, 1.65), (-2.90, 1.63), (-2.75, 1.55),
    (-2.35, 1.61), (-2.27, 1.83), (-1.88, 1.83), (-1.72, 1.81), (-1.48, 1.67), (-1.56, 1.65), (-1.40, 1.57), (-2.19, 1.49),
    (-2.03, 1.45), (-1.88, 1.39), (-1.32, 1.36), (-1.24, 1.28), (-1.40, 1.18), (-1.80, 1.14), (-2.11, 1.26), (-2.35, 1.24),
    (-2.59, 1.16), (-2.43, 1.10), (-2.27, 1.04), (-2.19, 0.98), (-2.11, 0.92), (-2.03, 0.90), (-1.80, 0.96), (-1.16, 1.06),
    (-0.85, 1.08), (-0.69, 0.98), (-0.53, 0.86), (-0.92, 0.78), (-0.85, 0.68), (-0.53, 0.70), (-0.29, 0.72), (-0.21, 0.58),
    (0.02, 0.52), (0.26, 0.50), (0.34, 0.42), (0.58, 0.38), (0.82, 0.36), (0.97, 0.44), (1.05, 0.32), (0.97, 0.20),
    (1.13, 0.12), (0.74, 0.26), (1.53, 0.42), (1.69, 0.54), (1.69, 0.48), (2.00, 0.62), (2.24, 0.62), (1.69, 0.32),
    (-0.53, 0.40), (-0.61, 0.22), (-1.56, 0.22), (-2.03, 0.14), (-2.43, 0.02), (-1.48, 0.04), (-3.06, 0.40), (-3.14, 0.42),
    (-2.75, 0.40), (-2.35, 0.40), (-3.54, 0.60), (-3.22, 0.60), (-3.69, 0.70), (-4.41, 0.46), (-4.33, 0.44), (-4.88, 0.30),
    (-4.72, 0.16), (-5.44, 0.18), (-5.75, 0.06), (-7.41, 0.34), (-7.65, 0.48), (-6.94, 0.54), (-7.33, 0.66), (-7.02, 0.80),
    (-6.62, 0.86), (-6.70, 1.00), (-6.46, 1.20), (-6.31, 1.18), (-6.07, 1.08), (-5.28, 0.94), (-4.88, 0.84), (-3.62, 1.08),
    (-3.62, 1.12), (-3.06, 0.98), (-2.51, 0.92), (-5.12, 1.04),
    (8.33, 5.22), (8.65, 5.24), (8.81, 5.22), (8.18, 5.14), (8.89, 5.14), (9.05, 5.08), (8.10, 5.02), (8.49, 5.06),
    (9.13, 4.98), (9.13, 4.90), (8.02, 4.92), (8.33, 4.90), (8.49, 4.94), (8.18, 4.84), (9.28, 4.76), (8.65, 4.74),
    (7.78, 4.64), (8.33, 4.64), (8.97, 4.70), (9.28, 4.70), (9.60, 4.62), (9.68, 4.54), (7.62, 4.50), (8.02, 4.54),
    (8.65, 4.56), (9.36, 4.50), (9.28, 4.42), (9.44, 4.38), (9.76, 4.38), (7.62, 4.30), (7.54, 4.22), (8.10, 4.22),
    (8.33, 4.26), (8.65, 4.20), (9.05, 4.24), (9.28, 4.18), (7.23, 4.10), (7.38, 4.04), (7.70, 4.04), (8.65, 4.04),
    (8.97, 3.99), (9.92, 4.12), (10.07, 4.02), (10.15, 3.96), (7.15, 3.92), (7.23, 3.86), (7.62, 3.84), (8.02, 3.77),
    (7.23, 3.73), (8.65, 3.77), (9.44, 3.77), (9.92, 3.73), (10.55, 3.73), (10.23, 3.65), (6.83, 3.45), (7.15, 3.39),
    (7.70, 3.49), (8.33, 3.47), (8.97, 3.57), (9.76, 3.53), (10.47, 3.53), (10.63, 3.13), (10.55, 2.97), (10.71, 2.89),
    (6.67, 3.21), (7.62, 3.21), (8.02, 3.09), (8.49, 3.05), (9.13, 3.23), (9.60, 3.17), (9.92, 2.93), (10.23, 2.89),
    (6.28, 2.77), (6.43, 2.85), (6.91, 2.93), (7.30, 2.77), (7.62, 2.73), (8.10, 2.77), (8.57, 2.81), (8.97, 2.67),
    (9.36, 2.77), (9.92, 2.57), (10.47, 2.49), (10.87, 2.41), (5.80, 2.53), (6.12, 2.57), (6.20, 2.43), (6.43, 2.45),
    (6.67, 2.45), (7.23, 2.39), (7.70, 2.33), (8.49, 2.53), (9.13, 2.41), (9.60, 2.33), (9.84, 2.27), (10.55, 2.13),
    (11.18, 2.15), (11.50, 2.05), (5.49, 2.25), (6.83, 2.21), (7.23, 2.13), (7.62, 2.15), (8.49, 2.09), (9.60, 2.05),
    (10.07, 2.09), (5.33, 2.05), (5.09, 1.79), (5.33, 1.75), (5.25, 1.69), (4.69, 1.57), (4.38, 1.49), (4.22, 1.41),
    (3.74, 1.24), (4.06, 1.20), (3.59, 1.00), (3.27, 0.96), (2.95, 0.80), (2.87, 0.56), (4.61, 0.72), (4.85, 0.60),
    (5.33, 0.64), (5.80, 0.64), (6.12, 0.60), (5.64, 1.33), (5.49, 1.41), (5.17, 1.45), (5.80, 1.08), (5.88, 1.02),
    (6.28, 0.92), (6.43, 0.80), (6.59, 0.98), (7.15, 0.96), (6.99, 1.29), (7.38, 1.33), (7.86, 1.33), (7.70, 1.51),
    (8.57, 1.57), (8.65, 1.69), (8.49, 1.73), (9.28, 1.77), (9.52, 1.83), (9.13, 1.37), (9.52, 1.45), (9.92, 1.37),
    (10.07, 1.47), (10.23, 1.37), (10.79, 1.37), (10.87, 1.20), (11.34, 1.33), (11.82, 1.24), (12.13, 1.12), (11.18, 1.04),
    (10.71, 0.92), (10.23, 0.84), (10.31, 0.68), (10.23, 0.64), (9.76, 0.72), (9.28, 0.94), (8.57, 0.88), (8.10, 0.84),
    (7.70, 0.68), (8.02, 0.44), (7.07, 0.64), (6.83, 0.88), (7.46, 0.88), (7.86, 1.06), (8.49, 1.41), (8.97, 1.53),
    (11.66, 1.45), (11.89, 1.29), (12.21, 1.00), (12.61, 0.60), (12.77, 0.56), (13.24, 0.40), (13.32, 0.16), (12.37, 0.32),
    (9.60, 0.40), (10.31, 0.40), (10.79, 0.52), (11.02, 0.60), (5.01, 0.36), (3.74, 0.60), (3.27, 0.32), (3.11, 0.12),
    (4.30, 0.06), (4.77, 0.08), (6.59, 0.32), (6.59, 0.24), (8.33, 0.18), (9.36, 0.00), (9.52, 0.00), (11.18, 0.04),
    (12.29, 0.04), (13.48, 0.02), (13.95, 0.00), (14.59, 0.00), (15.14, 0.02), (2.24, 0.04),
]

p2_proposal_dense = [
    (8.57, 5.18), (8.97, 5.16), (8.26, 5.06), (8.81, 5.02), (8.42, 4.82), (8.89, 4.84), (9.05, 4.58), (8.18, 4.46),
    (8.81, 4.40), (9.52, 4.30), (7.86, 4.36), (7.94, 4.12), (8.49, 4.10), (9.20, 4.10), (9.68, 4.00), (7.38, 3.85),
    (8.26, 3.92), (8.81, 3.85), (9.76, 3.86), (7.46, 3.60), (8.02, 3.55), (8.81, 3.40), (9.44, 3.45), (10.31, 3.30),
    (6.99, 3.30), (7.86, 3.35), (9.28, 3.30), (10.07, 3.20), (7.15, 3.02), (8.26, 3.15), (8.97, 2.95), (10.39, 3.05),
    (6.67, 2.65), (7.46, 2.55), (8.26, 2.65), (9.13, 2.60), (10.15, 2.70), (6.04, 2.35), (6.91, 2.05), (7.86, 2.45),
    (8.81, 2.30), (9.84, 2.45), (10.79, 2.30), (5.80, 2.10), (6.43, 1.90), (7.38, 1.95), (8.18, 1.85), (9.05, 2.00),
    (10.31, 1.95), (11.02, 1.85), (5.64, 1.60), (6.36, 1.55), (7.23, 1.50), (8.10, 1.50), (9.36, 1.60), (10.47, 1.60),
    (11.26, 1.55), (4.85, 1.25), (6.20, 1.22), (7.07, 1.10), (8.26, 1.20), (9.68, 1.10), (10.55, 1.15), (11.58, 1.05),
    (4.22, 0.90), (5.33, 0.95), (6.91, 0.80), (8.02, 0.95), (9.05, 0.70), (10.55, 0.78), (11.89, 0.78), (3.59, 0.70),
    (5.09, 0.55), (6.36, 0.55), (7.54, 0.50), (8.65, 0.60), (9.92, 0.52), (11.42, 0.42), (12.61, 0.25), (4.54, 0.25),
    (7.23, 0.22), (10.87, 0.20), (13.72, 0.12),
    (-3.77, 3.14), (-3.38, 3.12), (-4.33, 2.95), (-3.69, 2.90), (-3.30, 2.80), (-4.17, 2.75), (-3.77, 2.70), (-4.57, 2.62),
    (-3.22, 2.62), (-2.82, 2.50), (-3.77, 2.48), (-4.49, 2.40), (-3.46, 2.30), (-2.67, 2.25), (-4.09, 2.10), (-3.38, 2.00),
    (-2.43, 1.95), (-4.64, 1.95), (-5.20, 1.80), (-3.30, 1.78), (-2.59, 1.70), (-4.25, 1.55), (-3.06, 1.45), (-2.27, 1.35),
    (-5.44, 1.60), (-4.72, 1.35), (-3.85, 1.40), (-1.72, 1.20), (-6.23, 1.42), (-4.49, 1.15), (-3.22, 1.20), (-2.67, 1.00),
    (-1.40, 0.82), (-0.45, 0.60), (-5.75, 0.90), (-4.17, 0.95), (-3.06, 0.75), (-1.88, 0.72), (-1.00, 0.45), (0.42, 0.62),
    (-6.46, 0.60), (-5.04, 0.40), (-3.85, 0.52), (-2.59, 0.25), (-1.24, 0.30), (0.18, 0.25), (1.29, 0.55), (-4.41, 0.10),
    (-3.22, 0.18), (-0.77, 0.08), (-6.07, 0.25),
    (-14.46, 1.66), (-14.23, 1.62), (-13.91, 1.64), (-14.62, 1.55), (-13.59, 1.58), (-15.02, 1.52), (-15.57, 1.32),
    (-16.28, 1.28), (-16.76, 1.30), (-17.23, 1.25), (-14.38, 1.40), (-13.75, 1.35), (-13.20, 1.40), (-15.73, 1.05),
    (-16.05, 1.10), (-17.55, 0.95), (-16.92, 0.90), (-14.07, 1.15), (-13.36, 1.05), (-12.72, 1.05), (-17.63, 0.75),
    (-16.68, 0.80), (-15.49, 0.72), (-14.86, 0.92), (-14.23, 0.68), (-13.20, 0.72), (-12.33, 0.62), (-18.10, 0.62),
    (-17.15, 0.52), (-16.44, 0.55), (-15.25, 0.55), (-14.07, 0.55), (-12.72, 0.50), (-18.81, 0.18), (-17.95, 0.40),
    (-16.84, 0.35), (-15.89, 0.30), (-14.86, 0.20), (-12.48, 0.20), (-11.38, 0.50), (-10.27, 0.42), (-9.16, 0.30),
    (-8.37, 0.55),
]

PLOT_W = 1053
PLOT_H = 498
FONT = "Liberation Sans"
AX = "#262626"


def panel(curve_x, curve_y, target, proposal, xdom, xticks, xtitle, title, caption):
    line_df = pd.DataFrame({"x": curve_x, "y": curve_y, "series": SERIES[0]})
    tri_df = pd.DataFrame(target, columns=["x", "y"]).assign(series=SERIES[1])
    cir_df = pd.DataFrame(proposal, columns=["x", "y"]).assign(series=SERIES[2])
    cap_df = pd.DataFrame({"t": [caption]})

    xs = alt.Scale(domain=xdom, nice=False, zero=False)
    ys = alt.Scale(domain=[0, 6], nice=False, zero=False)
    color = alt.Color("series:N", scale=alt.Scale(domain=SERIES, range=COLORS), legend=alt.Legend(title=None))
    shape = alt.Shape("series:N", scale=alt.Scale(domain=SERIES, range=SHAPES), legend=alt.Legend(title=None))

    x_bottom = alt.Axis(orient="bottom", values=xticks, offset=-9, tickSize=9, domain=False, grid=False,
                        labelFont=FONT, labelFontSize=18, labelColor=AX, labelPadding=8, labelFlush=False,
                        labelOverlap=False, labelExpr="'' + datum.value", tickColor=AX, title=xtitle,
                        titleFont=FONT, titleFontSize=19, titleFontWeight="normal", titleColor=AX,
                        titlePadding=5)
    x_top = alt.Axis(orient="top", values=xticks, offset=-9, tickSize=9, domain=False, grid=False,
                     labels=False, tickColor=AX, title=None)
    y_left = alt.Axis(orient="left", values=y_ticks, offset=-9, tickSize=9, domain=False, grid=False,
                      labels=False, tickColor=AX, title="Density", titleFont=FONT, titleFontSize=19,
                      titleFontWeight="normal", titleColor=AX, titlePadding=9)
    y_right = alt.Axis(orient="right", values=y_ticks, offset=-9, tickSize=9, domain=False, grid=False,
                       labels=False, tickColor=AX, title=None)

    line = alt.Chart(line_df).mark_line(strokeWidth=1.5, interpolate="monotone").encode(
        x=alt.X("x:Q", scale=xs, axis=x_bottom),
        y=alt.Y("y:Q", scale=ys, axis=y_left),
        color=color,
    )
    tri = alt.Chart(tri_df).mark_point(filled=False, strokeWidth=1, opacity=1, size=44).encode(
        x=alt.X("x:Q", scale=xs, axis=x_top),
        y=alt.Y("y:Q", scale=ys, axis=y_right),
        color=color, shape=shape,
    )
    cir = alt.Chart(cir_df).mark_point(filled=False, strokeWidth=1, opacity=1, size=32).encode(
        x=alt.X("x:Q", scale=xs, axis=None),
        y=alt.Y("y:Q", scale=ys, axis=None),
        color=color, shape=shape,
    )
    cap = alt.Chart(cap_df).mark_text(font="Liberation Serif", fontSize=24, color="#000000",
                                      baseline="middle", align="center").encode(
        text="t:N", x=alt.value(PLOT_W / 2), y=alt.value(PLOT_H + 85),
    )
    return alt.layer(line, tri, cir, cap).resolve_axis(x="independent", y="independent").properties(
        width=PLOT_W, height=PLOT_H,
        title=alt.TitleParams(title, font=FONT, fontSize=21, fontWeight="bold", color="#000000",
                              anchor="middle", dx=-76, offset=6),
    )


top = panel(p1_curve_x, p1_curve_y, p1_target + p1_target_dense, p1_proposal + p1_proposal_dense,
            [-10, 30], x1_ticks, "x\u2081",
            "Distributions projected on the horizontal plane - Marginal Auxiliary Particle Filter",
            "(a) Horizontal plane")
bottom = panel(p2_curve_x, p2_curve_y, p2_target + p2_target_dense, p2_proposal + p2_proposal_dense,
               [-25, 25], x2_ticks, "x\u2082",
               "Distributions projected on the vertical plane - Marginal Auxiliary Particle Filter",
               "(b) Vertical plane")

chart = alt.vconcat(top, bottom, spacing=32).resolve_scale(
    color="independent", shape="independent"
).properties(
    padding={"left": 10, "top": 8, "right": 5, "bottom": 5},
    background="white",
).configure_view(
    stroke=AX, strokeWidth=1,
).configure_legend(
    orient="none", legendX=10, legendY=7, fillColor="white", strokeColor=AX, padding=3,
    labelFont=FONT, labelFontSize=22, labelColor="#000000", rowPadding=5,
    labelOffset=0, symbolOffset={"expr": "-4"},
    symbolSize=22, labelLimit=500, symbolStrokeWidth=1.1, cornerRadius=0,
)

chart.save("out.html", embed_options={"renderer": "svg", "actions": False})
